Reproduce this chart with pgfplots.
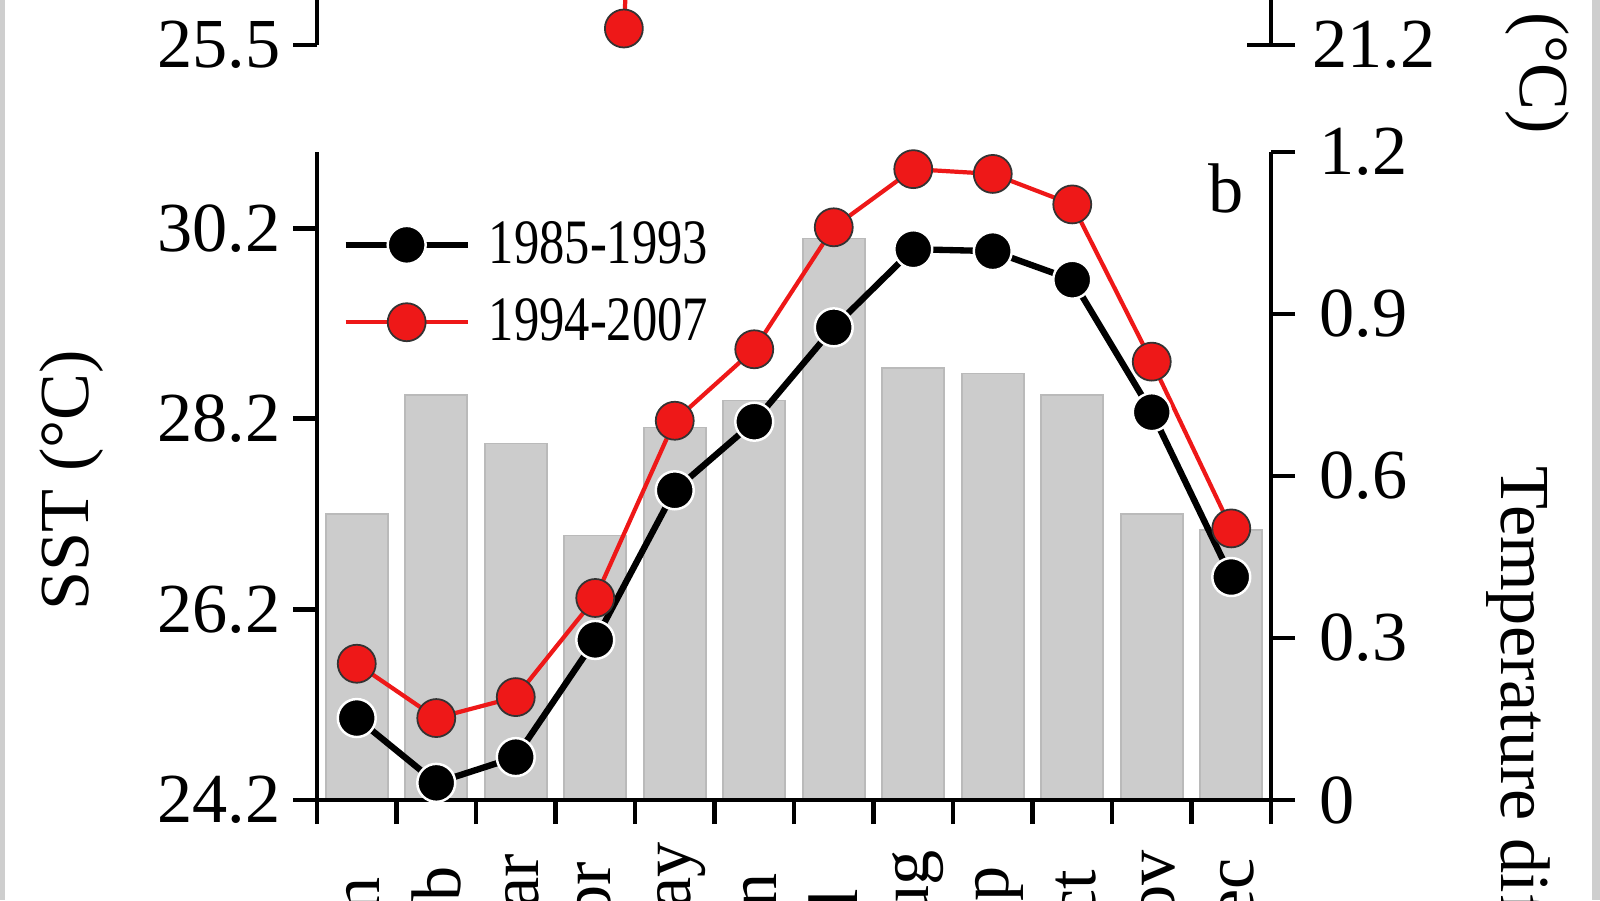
\documentclass[border=0pt]{standalone}
\usepackage{pgfplots}
\pgfplotsset{compat=1.18}
\usepackage{pgfplotstable}
\usepackage{fontspec}
\setmainfont{Liberation Serif}
\newfontfamily\legfont[FakeStretch=0.8]{Liberation Serif}

\definecolor{bargray}{RGB}{204,204,204}
\definecolor{baredge}{RGB}{186,186,186}
\definecolor{sstred}{RGB}{238,24,24}
\definecolor{framegray}{RGB}{206,206,206}

% monthly mean SST of the two periods, and their difference (bars)
\pgfplotstableread{
month early late diff
1  25.06 25.63 0.53
2  24.38 25.06 0.75
3  24.65 25.28 0.66
4  25.88 26.32 0.49
5  27.45 28.18 0.69
6  28.17 28.93 0.74
7  29.16 30.21 1.04
8  29.98 30.82 0.80
9  29.96 30.77 0.79
10 29.66 30.45 0.75
11 28.27 28.80 0.53
12 26.54 27.05 0.50
}\sstdata

\pgfplotsset{
  panel/.style={
    scale only axis, width=9.54cm, height=6.48cm,
    xmin=0.5, xmax=12.5,
    tick align=outside, major tick length=0.24cm,
    axis line style={line width=1.4pt},
    tick style={black, line width=1.4pt},
    tick label style={font=\fontsize{20}{24}\selectfont},
  },
  black series/.style={black, line width=1.8pt, mark=*, mark size=5.4pt,
    mark options={fill=black, draw=white, line width=0.7pt}},
  red series/.style={sstred, line width=1.2pt, mark=*, mark size=5.4pt,
    mark options={fill=sstred, draw=black!80, line width=0.5pt}},
}

\begin{document}
\begin{tikzpicture}
\fill[framegray] (0,0) rectangle (0.05,9);
\fill[framegray] (15.92,0) rectangle (16,9);

% bottom edge of panel a (the rest is cut off)
\begin{axis}[panel, at={(3.17cm,8.55cm)}, anchor=south west,
  axis x line=none, axis y line*=left, ymin=25.5, ymax=31,
  ytick={25.5}, yticklabels={25.5}]
\addplot[red series] coordinates {(4.36,25.64) (4.50,27.5)};
\end{axis}
\begin{axis}[panel, at={(3.17cm,8.55cm)}, anchor=south west,
  axis x line=none, axis y line*=right, tick align=center, major tick length=0.48cm,
  ymin=21.2, ymax=24, ytick={21.2}, yticklabels={21.2},
  yticklabel style={xshift=0.05cm}]
\end{axis}

% panel b: bars on the right axis
\begin{axis}[panel, at={(3.17cm,1.00cm)}, anchor=south west,
  ybar, bar width=0.62cm,
  axis x line*=bottom, axis y line*=right,
  xtick={0.5,1.5,...,12.5}, xticklabels={},
  ymin=0, ymax=1.2, ytick={0,0.3,0.6,0.9,1.2}, yticklabels={0,0.3,0.6,0.9,1.2},
  yticklabel style={xshift=0.12cm}]
\addplot[fill=bargray, draw=baredge, line width=0.5pt] table[x=month, y=diff] {\sstdata};
\end{axis}

% month names
\begin{axis}[panel, at={(3.17cm,1.00cm)}, anchor=south west,
  axis x line*=bottom, axis y line=none, ymin=0, ymax=1,
  xtick={1,...,12}, major tick length=0pt,
  xticklabels={Jan,Feb,Mar,Apr,May,Jun,Jul,Aug,Sep,Oct,Nov,Dec},
  xticklabel style={yshift=-1.72cm, rotate=90, anchor=west, inner sep=0pt}]
\end{axis}

% panel b: SST lines on the left axis
\begin{axis}[panel, at={(3.17cm,1.00cm)}, anchor=south west,
  axis x line=none, axis y line*=left, clip=false,
  ymin=24.2, ymax=31.0, ytick={24.2,26.2,28.2,30.2},
  yticklabels={24.2,26.2,28.2,30.2},
  legend cell align=left,
  legend image code/.code={\draw[mark repeat=2, mark phase=2, #1]
    plot coordinates {(0cm,0cm) (0.61cm,0cm) (1.22cm,0cm)};},
  legend style={at={(0.026,0.797)}, anchor=west, draw=none, fill=none,
    inner sep=0pt, nodes={inner sep=0pt}, column sep=0.18cm, row sep=0.30cm,
    font=\legfont\fontsize{18}{21}\selectfont}]
\addplot[black series] table[x=month, y=early] {\sstdata};
\addlegendentry{1985-1993}
\addplot[red series] table[x=month, y=late] {\sstdata};
\addlegendentry{1994-2007}
\end{axis}

\node[rotate=90, font=\fontsize{20}{24}\selectfont] at (0.72,4.20) {SST (°C)};
\node[rotate=-90, anchor=west, font=\fontsize{20}{24}\selectfont] at (15.19,4.455) {Temperature difference (°C)};
\node[rotate=-90, anchor=east, font=\fontsize{20}{24}\selectfont] at (15.37,7.535) {(°C)};
\node[font=\fontsize{20}{24}\selectfont] at (12.26,7.12) {b};

\pgfresetboundingbox
\path[use as bounding box] (0,0) rectangle (16,9);
\end{tikzpicture}
\end{document}
